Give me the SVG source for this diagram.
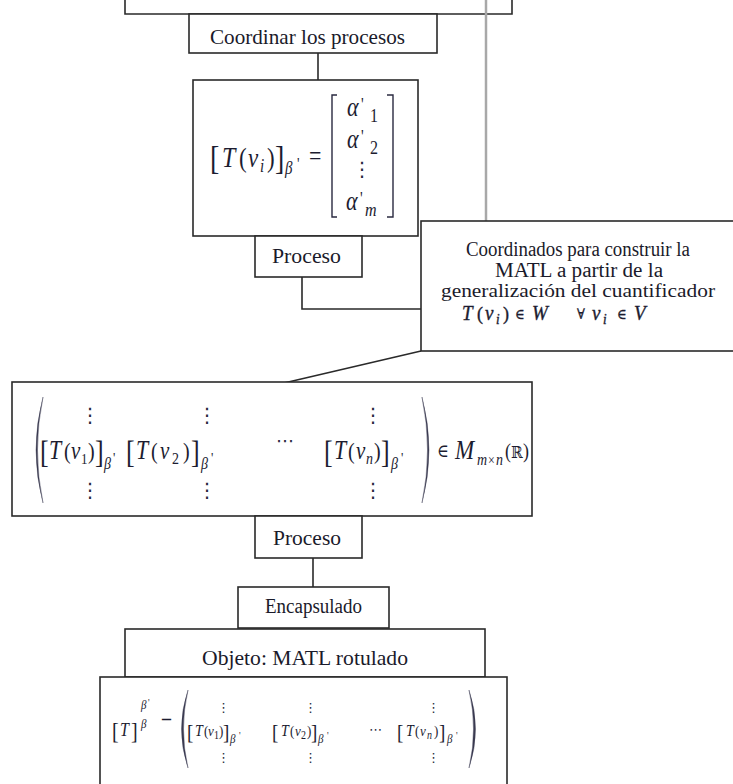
<svg xmlns="http://www.w3.org/2000/svg" width="733" height="784" viewBox="0 0 733 784">
  <style>
    .box { fill: #ffffff; stroke: #2a2a2a; stroke-width: 1.6; }
    .wire { fill: none; stroke: #2a2a2a; stroke-width: 1.6; }
    .gray { fill: none; stroke: #a8a8a8; stroke-width: 2.5; }
    .lbl { font-family: "Liberation Serif", "DejaVu Serif", serif; fill: #1a1a2a; }
    .m { font-family: "Liberation Serif", "DejaVu Serif", serif; font-style: normal; fill: #1c1c30; }
    .mi { font-family: "Liberation Serif", "DejaVu Serif", serif; font-style: italic; fill: #1c1c30; }
    .sym { font-family: "DejaVu Serif", "Liberation Serif", serif; font-style: normal; fill: #1c1c30; }
    .dots { font-family: "DejaVu Sans", sans-serif; fill: #2a2a40; }
    .brk { fill: none; stroke: #2a2a40; stroke-width: 1.4; }
    .paren { fill: #3a3a50; stroke: #3a3a50; stroke-width: 0.4; }
    .heavy { stroke: #1c1c30; stroke-width: 0.35; }
  </style>

  <!-- connectors -->
  <g id="connectors">
    <path class="wire" d="M125 0 V14 H512 V0"/>
    <line class="gray" x1="486" y1="0" x2="486" y2="221"/>
    <line class="wire" x1="318" y1="53" x2="318" y2="80"/>
    <path class="wire" d="M302 277 V309 H421"/>
    <line class="wire" x1="421" y1="351" x2="284" y2="383"/>
    <line class="wire" x1="313" y1="558" x2="313" y2="587"/>
  </g>

  <!-- Coordinar los procesos -->
  <g id="coordinar">
    <rect class="box" x="189" y="14" width="248" height="39"/>
    <text class="lbl" x="210" y="44" font-size="22" textLength="195" lengthAdjust="spacingAndGlyphs">Coordinar los procesos</text>
  </g>

  <!-- column vector of coordinates -->
  <g id="vector">
    <rect class="box" x="193" y="80" width="225" height="156"/>
    <text class="m" font-size="23" transform="matrix(1 0 0 1.22 0 -36.74)"><tspan x="210" y="169" font-size="28">[</tspan><tspan class="mi" x="222" y="167" font-size="24">T</tspan><tspan x="239" y="167">(</tspan><tspan class="mi" x="248" y="167" font-size="23">v</tspan><tspan class="mi" x="260" y="171" font-size="15">i</tspan><tspan x="267" y="167">)</tspan><tspan x="275" y="169" font-size="28">]</tspan><tspan class="mi" x="285" y="173" font-size="15">β</tspan><tspan x="297" y="169" font-size="14">'</tspan><tspan x="309" y="165" font-size="22">=</tspan></text>
    <path class="brk" d="M337 95 H332 V217 H337"/>
    <path class="brk" d="M387 95 H393 V217 H387"/>
    <text class="m" font-size="22" transform="matrix(1 0 0 1.2 0 -23.2)"><tspan class="mi" x="347" y="116">α</tspan><tspan x="361" y="112" font-size="15">'</tspan><tspan x="370" y="121" font-size="16">1</tspan></text>
    <text class="m" font-size="22" transform="matrix(1 0 0 1.2 0 -29.6)"><tspan class="mi" x="347" y="148">α</tspan><tspan x="361" y="144" font-size="15">'</tspan><tspan x="370" y="153" font-size="16">2</tspan></text>
    <text class="dots" x="352" y="176" font-size="20">⋮</text>
    <text class="m" font-size="22" transform="matrix(1 0 0 1.2 0 -42)"><tspan class="mi" x="346" y="210">α</tspan><tspan x="360" y="206" font-size="15">'</tspan><tspan class="mi" x="365" y="215" font-size="16">m</tspan></text>
  </g>

  <!-- Proceso (1) -->
  <g id="proceso1">
    <rect class="box" x="255" y="236" width="107" height="41"/>
    <text class="lbl" x="272" y="263" font-size="21" textLength="69" lengthAdjust="spacingAndGlyphs">Proceso</text>
  </g>

  <!-- Coordinados para construir la MATL -->
  <g id="coordinados">
    <rect class="box" x="421" y="221" width="320" height="130"/>
    <text class="lbl" x="466" y="256" font-size="20" textLength="224" lengthAdjust="spacingAndGlyphs">Coordinados para construir la</text>
    <text class="lbl" x="495" y="277" font-size="20" textLength="168" lengthAdjust="spacingAndGlyphs">MATL a partir de la</text>
    <text class="lbl" x="441" y="297" font-size="19" textLength="274" lengthAdjust="spacingAndGlyphs">generalización del cuantificador</text>
    <text class="mi heavy" font-size="19" transform="matrix(1 0 0 1.08 0 -25.6)"><tspan x="462" y="320">T</tspan><tspan class="m heavy" x="477" y="320" font-size="18">(</tspan><tspan x="485" y="320">v</tspan><tspan x="496" y="324" font-size="13">i</tspan><tspan class="m heavy" x="503" y="320" font-size="18">)</tspan><tspan class="sym" x="515" y="319" font-size="13">∈</tspan><tspan x="532" y="320">W</tspan><tspan class="sym" x="577" y="319" font-size="13">∀</tspan><tspan x="592" y="320">v</tspan><tspan x="603" y="324" font-size="13">i</tspan><tspan class="sym" x="617" y="319" font-size="13">∈</tspan><tspan x="634" y="320">V</tspan></text>
  </g>

  <!-- matrix of coordinate columns -->
  <g id="matriz">
    <rect class="box" x="12" y="382" width="520" height="134"/>
    <path class="paren" d="M43 397 Q29 450 43 503 Q32 450 43 397 Z"/>
    <path class="paren" d="M422 397 Q436 450 422 503 Q433 450 422 397 Z"/>
    <text class="dots" x="80" y="422" font-size="20">⋮</text>
    <text class="dots" x="197" y="422" font-size="20">⋮</text>
    <text class="dots" x="363" y="422" font-size="20">⋮</text>
    <text class="dots" x="80" y="497" font-size="20">⋮</text>
    <text class="dots" x="197" y="497" font-size="20">⋮</text>
    <text class="dots" x="363" y="497" font-size="20">⋮</text>
    <text class="m" font-size="20" transform="matrix(1 0 0 1.2 0 -91.8)"><tspan x="40" y="462" font-size="26">[</tspan><tspan class="mi" x="49" y="459" font-size="22">T</tspan><tspan x="64" y="459">(</tspan><tspan class="mi" x="71" y="459" font-size="21">v</tspan><tspan x="81" y="463" font-size="13">1</tspan><tspan x="88" y="459">)</tspan><tspan x="95" y="462" font-size="26">]</tspan><tspan class="mi" x="104" y="467" font-size="14">β</tspan><tspan x="113" y="462" font-size="13">'</tspan></text>
    <text class="m" font-size="20" transform="matrix(1 0 0 1.2 0 -91.8)"><tspan x="126" y="462" font-size="26">[</tspan><tspan class="mi" x="136" y="459" font-size="22">T</tspan><tspan x="151" y="459">(</tspan><tspan class="mi" x="160" y="459" font-size="21">v</tspan><tspan x="172" y="463" font-size="14">2</tspan><tspan x="183" y="459">)</tspan><tspan x="191" y="462" font-size="26">]</tspan><tspan class="mi" x="201" y="467" font-size="14">β</tspan><tspan x="211" y="462" font-size="13">'</tspan></text>
    <text class="dots" x="276" y="447" font-size="18">⋯</text>
    <text class="m" font-size="20" transform="matrix(1 0 0 1.2 0 -91.8)"><tspan x="324" y="462" font-size="26">[</tspan><tspan class="mi" x="334" y="459" font-size="22">T</tspan><tspan x="348" y="459">(</tspan><tspan class="mi" x="356" y="459" font-size="21">v</tspan><tspan class="mi" x="366" y="463" font-size="14">n</tspan><tspan x="374" y="459">)</tspan><tspan x="381" y="462" font-size="26">]</tspan><tspan class="mi" x="391" y="467" font-size="14">β</tspan><tspan x="401" y="462" font-size="13">'</tspan></text>
    <text class="m" font-size="18" transform="matrix(1 0 0 1.15 0 -68.85)"><tspan class="sym" x="437" y="457" font-size="16">∈</tspan><tspan class="mi" x="455" y="459" font-size="23">M</tspan><tspan class="mi" x="477" y="464" font-size="14">m</tspan><tspan x="488" y="464" font-size="12">×</tspan><tspan class="mi" x="496" y="464" font-size="14">n</tspan><tspan x="505" y="458">(</tspan><tspan class="sym" x="511" y="458" font-size="14">ℝ</tspan><tspan x="523" y="458">)</tspan></text>
  </g>

  <!-- Proceso (2) -->
  <g id="proceso2">
    <rect class="box" x="255" y="516" width="107" height="42"/>
    <text class="lbl" x="273" y="545" font-size="21" textLength="68" lengthAdjust="spacingAndGlyphs">Proceso</text>
  </g>

  <!-- Encapsulado -->
  <g id="encapsulado">
    <rect class="box" x="238" y="587" width="151" height="41"/>
    <text class="lbl" x="265" y="613" font-size="20" textLength="97" lengthAdjust="spacingAndGlyphs">Encapsulado</text>
  </g>

  <!-- Objeto: MATL rotulado -->
  <g id="objeto">
    <rect class="box" x="125" y="629" width="360" height="48"/>
    <text class="lbl" x="202" y="665" font-size="22" textLength="206" lengthAdjust="spacingAndGlyphs">Objeto: MATL rotulado</text>
  </g>

  <!-- labelled matrix of the linear map -->
  <g id="matl">
    <rect class="box" x="100" y="677" width="407" height="120"/>
    <text class="m" font-size="20" transform="matrix(1 0 0 1.12 0 -88.32)"><tspan x="112" y="739">[</tspan><tspan class="mi" x="120" y="736" font-size="16">T</tspan><tspan x="131" y="739">]</tspan><tspan class="mi" x="141" y="712" font-size="11">β</tspan><tspan x="148" y="709" font-size="9">'</tspan><tspan class="mi" x="141" y="729" font-size="11">β</tspan><tspan x="162" y="726" font-size="18" font-weight="bold">–</tspan></text>
    <path class="paren" d="M188 690 Q175 729 188 768 Q179 729 188 690 Z"/>
    <path class="paren" d="M469 690 Q482 729 469 768 Q478 729 469 690 Z"/>
    <text class="dots" x="217" y="712" font-size="13">⋮</text>
    <text class="dots" x="304" y="712" font-size="13">⋮</text>
    <text class="dots" x="427" y="712" font-size="13">⋮</text>
    <text class="dots" x="217" y="762" font-size="13">⋮</text>
    <text class="dots" x="304" y="762" font-size="13">⋮</text>
    <text class="dots" x="427" y="762" font-size="13">⋮</text>
    <text class="m" font-size="13" transform="matrix(1 0 0 1.15 0 -110.4)"><tspan x="187" y="739" font-size="19">[</tspan><tspan class="mi" x="195" y="736" font-size="14">T</tspan><tspan x="204" y="736">(</tspan><tspan class="mi" x="208" y="736">v</tspan><tspan x="214" y="739" font-size="10">1</tspan><tspan x="219" y="736">)</tspan><tspan x="223" y="739" font-size="19">]</tspan><tspan class="mi" x="230" y="742" font-size="11">β</tspan><tspan x="239" y="739" font-size="9">'</tspan></text>
    <text class="m" font-size="13" transform="matrix(1 0 0 1.15 0 -110.4)"><tspan x="272" y="739" font-size="19">[</tspan><tspan class="mi" x="281" y="736" font-size="14">T</tspan><tspan x="290" y="736">(</tspan><tspan class="mi" x="295" y="736">v</tspan><tspan x="301" y="739" font-size="10">2</tspan><tspan x="307" y="736">)</tspan><tspan x="311" y="739" font-size="19">]</tspan><tspan class="mi" x="318" y="742" font-size="11">β</tspan><tspan x="327" y="739" font-size="9">'</tspan></text>
    <text class="dots" x="369" y="734" font-size="13">⋯</text>
    <text class="m" font-size="13" transform="matrix(1 0 0 1.15 0 -110.4)"><tspan x="397" y="739" font-size="19">[</tspan><tspan class="mi" x="406" y="736" font-size="14">T</tspan><tspan x="415" y="736">(</tspan><tspan class="mi" x="420" y="736">v</tspan><tspan class="mi" x="427" y="739" font-size="10">n</tspan><tspan x="434" y="736">)</tspan><tspan x="439" y="739" font-size="19">]</tspan><tspan class="mi" x="447" y="742" font-size="11">β</tspan><tspan x="456" y="739" font-size="9">'</tspan></text>
  </g>
</svg>
